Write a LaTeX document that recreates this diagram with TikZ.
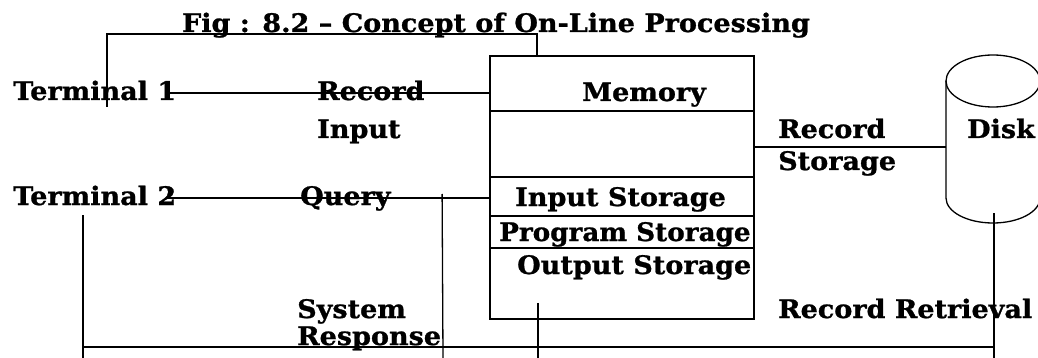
\documentclass[tikz,border=0pt]{standalone}
\usepackage{fontspec}
\setmainfont{DejaVu Serif}[FakeStretch=1.06, BoldFeatures={FakeBold=1.0}]
\usetikzlibrary{calc}
\begin{document}
\begin{tikzpicture}[x=1pt,y=-1pt,
  lbl/.style={font=\bfseries\fontsize{25.5}{30}\selectfont, inner sep=0pt, anchor=base west},
  conn/.style={line width=1.3pt, line cap=butt},
  boxline/.style={line width=1.8pt}]
\useasboundingbox (0,0) rectangle (1038,358);

% title
\node[lbl, anchor=base] (title) at (496,32) {Fig : 8.2 – Concept of On-Line Processing};

% memory box
\node[draw, boxline, minimum width=264pt, minimum height=263pt, inner sep=0pt] (membox) at (622,187.5) {};
\foreach \yy in {111,177,216,248}
  \draw[boxline] (membox.west |- 0,\yy) -- (membox.east |- 0,\yy);
\node[lbl] (mem) at (582,101) {Memory};
\node[lbl] (ins) at (515,206) {Input Storage};
\node[lbl] (prs) at (499,241) {\scalebox{0.97}[1]{Program Storage}};
\node[lbl] (ous) at (517,274) {Output Storage};

% disk
\coordinate (diskleft) at (946,147);
\coordinate (diskbot) at (994,213);
\draw[conn] (993,81) ellipse [x radius=47pt, y radius=26pt];
\draw[conn] (946,81) -- (946,198) arc [start angle=180, end angle=360, x radius=47pt, y radius=25pt] -- (1040,81);
\node[lbl] (disk) at (967,138) {Disk};

% labels
\node[lbl] (t1) at (13,100) {Terminal 1};
\node[lbl] (t2) at (13,205) {Terminal 2};
\node[lbl] (ri1) at (317,100) {Record};
\node[lbl] (ri2) at (317,138) {Input};
\node[lbl] (qu) at (300,205) {Query};
\node[lbl] (rs1) at (778,138) {Record};
\node[lbl] (rs2) at (778,170) {Storage};
\node[lbl] (sr1) at (297,318) {System};
\node[lbl] (sr2) at (297,345) {Response};
\node[lbl] (rr) at (778,318) {Record Retrieval};

% bottom bus
\coordinate (busL) at (83,347);
\coordinate (busR) at (994,347);
\draw[conn] (busL) -- (busR);

% connectors
\draw[conn] ($(t1.base west)+(154,-7)$) -- (membox.west |- 0,93);
\draw[conn] ($(t1.base west)+(94,7)$) |- ($(membox.north)+(-85,-21)$) -- ($(membox.north)+(-85,0)$);
\draw[conn] ($(t2.base west)+(154,-7)$) -- (membox.west |- 0,198);
\draw[conn] ($(t2.base west)+(70,10)$) -- (83,358);
\draw[conn] ($(membox.west)+(-47,6.5)$) -- (443,358);
\draw[conn] ($(membox.south)+(-84,-17)$) -- (538,358);
\draw[conn] (membox.east |- diskleft) -- (diskleft);
\draw[conn] (diskbot) -- (994,358);
\end{tikzpicture}
\end{document}
